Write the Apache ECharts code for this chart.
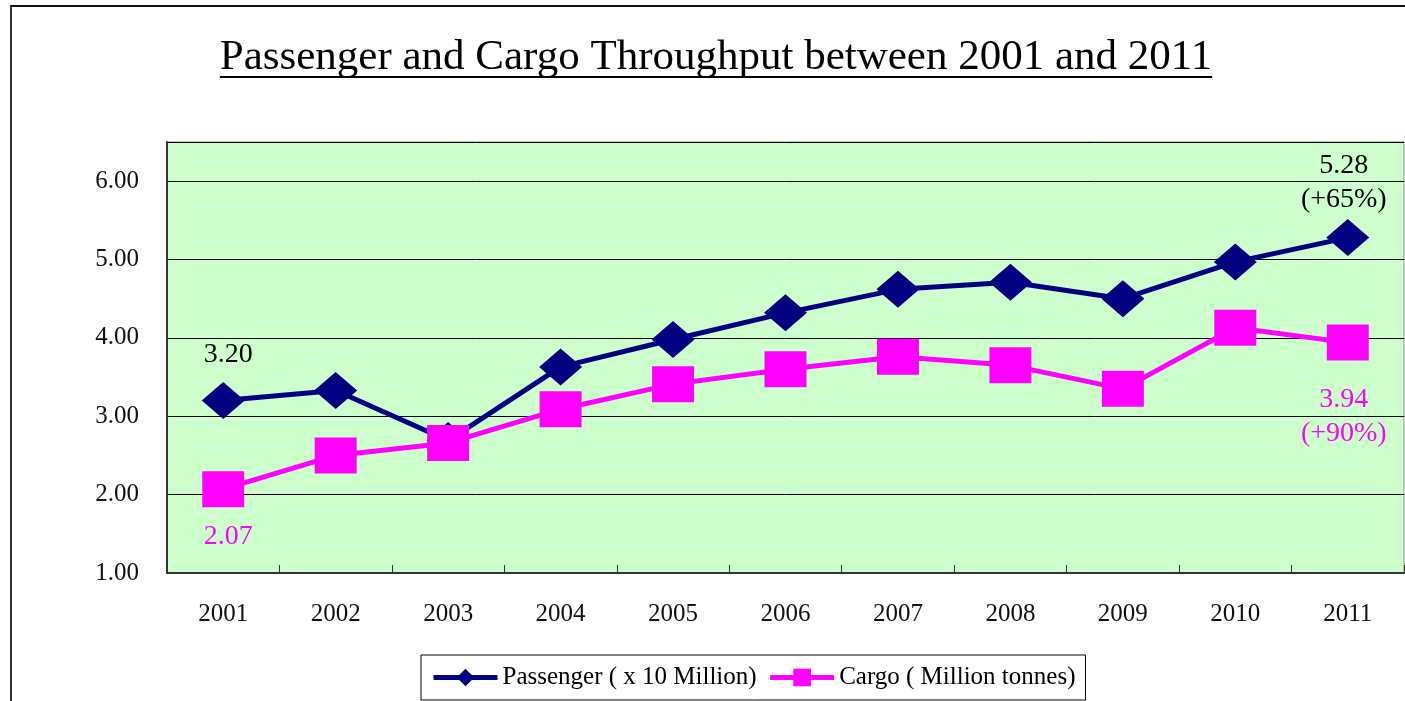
<!DOCTYPE html>
<html>
<head>
<meta charset="utf-8">
<script src="https://cdn.jsdelivr.net/npm/echarts@6/dist/echarts.min.js"></script>
<style>
  html, body { margin: 0; padding: 0; background: #fff; }
  #frame { position: absolute; left: 10px; top: 5px; width: 1400px; height: 700px;
           border-left: 2px solid #333; border-top: 2px solid #111; }
  #chart { position: absolute; left: 0; top: 0; width: 1405px; height: 701px; }
</style>
</head>
<body>
<div id="frame"></div>
<div id="chart"></div>
<script>
// 年份
var years = ['2001', '2002', '2003', '2004', '2005', '2006', '2007', '2008', '2009', '2010', '2011'];
// 旅客 (x 10 Million)
var passenger = [3.20, 3.33, 2.69, 3.63, 3.98, 4.32, 4.62, 4.71, 4.50, 4.97, 5.28];
// 货物 (Million tonnes)
var cargo = [2.07, 2.50, 2.66, 3.09, 3.41, 3.60, 3.76, 3.65, 3.35, 4.13, 3.94];
// 标注文字
var passengerNotes = ['3.20', '', '', '', '', '', '', '', '', '', '5.28\n(+65%)'];
var cargoNotes = ['2.07', '', '', '', '', '', '', '', '', '', '3.94\n(+90%)'];
var yTicks = [1, 2, 3, 4, 5, 6];

var titleText = 'Passenger and Cargo Throughput between 2001 and 2011';
// 按目标宽度定标题字号
var ctx = document.createElement('canvas').getContext('2d');
ctx.font = '40px "Liberation Serif"';
var titleSize = Math.round(40 * 998 / ctx.measureText(titleText).width);
ctx.font = titleSize + 'px "Liberation Serif"';
var titleW = ctx.measureText(titleText).width;
var titleCx = 716;

function notesData(values, notes, pos, dists, offs, color) {
    return values.map(function (v, i) {
        var item = { value: v };
        if (notes[i]) {
            item.label = {
                show: true,
                position: pos,
                distance: dists[i] || 10,
                offset: [offs[i] || 0, 0],
                formatter: notes[i],
                color: color,
                fontFamily: '"Liberation Serif", serif',
                fontSize: 28,
                lineHeight: 34
            };
        }
        return item;
    });
}
var pDist = {0: 10, 10: 2};
var cDist = {0: 12, 10: 22};
var labelOffs = {0: 5, 10: -4};

var myChart = echarts.init(document.getElementById('chart'));
myChart.setOption({
    animation: false,
    title: {
        text: titleText,
        left: titleCx - titleW / 2,
        top: 36,
        padding: 0,
        textStyle: {
            fontFamily: '"Liberation Serif", serif',
            fontSize: titleSize,
            fontWeight: 'normal',
            color: '#000'
        }
    },
    graphic: [{
        type: 'line',
        shape: { x1: titleCx - titleW / 2, y1: 77, x2: titleCx + titleW / 2, y2: 77 },
        style: { stroke: '#000', lineWidth: 2 }
    }],
    legend: {
        left: 421,
        top: 655,
        padding: [10, 10, 10, 10],
        itemGap: 11,
        itemWidth: 64,
        itemHeight: 22,
        borderColor: '#000',
        borderWidth: 1,
        backgroundColor: '#fff',
        lineStyle: { width: 5 },
        textStyle: {
            fontFamily: '"Liberation Serif", serif',
            fontSize: 25,
            color: '#000'
        },
        data: ['Passenger ( x 10 Million)', 'Cargo ( Million tonnes)']
    },
    grid: {
        left: 167,
        right: 1,
        top: 142,
        bottom: 128,
        show: true,
        backgroundColor: '#CCFFCC',
        borderColor: '#8a8a8a',
        borderWidth: 1
    },
    xAxis: {
        type: 'category',
        data: years,
        boundaryGap: true,
        axisLine: { lineStyle: { color: '#333', width: 2 } },
        axisTick: { show: true, inside: true, length: 8, lineStyle: { color: '#333' } },
        axisLabel: {
            margin: 29,
            fontFamily: '"Liberation Serif", serif',
            fontSize: 25,
            color: '#111'
        }
    },
    yAxis: {
        type: 'value',
        min: yTicks[0],
        max: 6.5,
        interval: 1,
        axisLine: { show: true, lineStyle: { color: '#333', width: 2 } },
        axisTick: { show: false },
        splitLine: { show: true, lineStyle: { color: '#000', width: 1 } },
        axisLabel: {
            margin: 28,
            showMaxLabel: false,
            fontFamily: '"Liberation Serif", serif',
            fontSize: 25,
            color: '#111',
            formatter: function (v) { return v.toFixed(2); }
        }
    },
    series: [
        {
            name: 'Passenger ( x 10 Million)',
            type: 'line',
            data: notesData(passenger, passengerNotes, 'top', pDist, labelOffs, '#000'),
            symbol: 'diamond',
            symbolSize: [43, 37],
            itemStyle: { color: '#000080' },
            lineStyle: { color: '#000080', width: 5 },
            z: 2
        },
        {
            name: 'Cargo ( Million tonnes)',
            type: 'line',
            data: notesData(cargo, cargoNotes, 'bottom', cDist, labelOffs, '#FF00FF'),
            symbol: 'rect',
            symbolSize: [42, 36],
            itemStyle: { color: '#FF00FF' },
            lineStyle: { color: '#FF00FF', width: 5 },
            z: 3
        }
    ]
});
</script>
</body>
</html>
